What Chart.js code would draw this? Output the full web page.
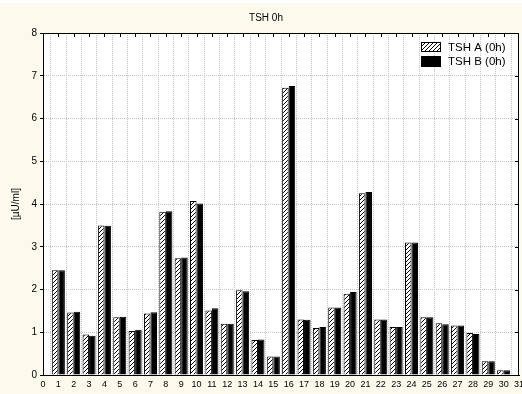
<!DOCTYPE html>
<html>
<head>
<meta charset="utf-8">
<script src="https://cdn.jsdelivr.net/npm/chart.js@4.4.0/dist/chart.umd.min.js"></script>
<style>
html, body { margin: 0; padding: 0; background: #fff; overflow: hidden; }
#wrap { width: 522px; height: 394px; }
</style>
</head>
<body>
<div id="wrap"><canvas id="chart" width="522" height="394"></canvas></div>
<script>
// Dữ liệu
var positions = [1, 2, 3, 4, 5, 6, 7, 8, 9, 10, 11, 12, 13, 14, 15, 16, 17, 18, 19, 20, 21, 22, 23, 24, 25, 26, 27, 28, 29, 30];
var tshA = [2.45, 1.46, 0.95, 3.50, 1.35, 1.03, 1.44, 3.82, 2.73, 4.07, 1.51, 1.20, 1.98, 0.82, 0.43,
            6.72, 1.30, 1.10, 1.58, 1.90, 4.25, 1.30, 1.12, 3.10, 1.35, 1.21, 1.16, 0.98, 0.32, 0.11];
var tshB = [2.45, 1.48, 0.92, 3.49, 1.36, 1.06, 1.47, 3.83, 2.75, 4.01, 1.56, 1.20, 1.96, 0.83, 0.43,
            6.76, 1.29, 1.12, 1.58, 1.94, 4.28, 1.30, 1.12, 3.10, 1.35, 1.19, 1.16, 0.96, 0.32, 0.11];
var seriesNames = ['TSH A (0h)', 'TSH B (0h)'];
var chartTitle = 'TSH 0h';
var yTitle = '[µU/ml]';
var xMin = 0, xMax = 31, yMin = 0, yMax = 8;

var FONT = "'Liberation Sans', Arial, sans-serif";
var CREAM = '#fdf9ed';

// Mẫu gạch chéo cho series A
function makeHatch() {
    var c = document.createElement('canvas');
    c.width = 4; c.height = 4;
    var g = c.getContext('2d');
    g.fillStyle = '#fff';
    g.fillRect(0, 0, 4, 4);
    g.strokeStyle = '#000';
    g.lineWidth = 1;
    g.beginPath();
    g.moveTo(0, 4); g.lineTo(4, 0);
    g.moveTo(-1, 1); g.lineTo(1, -1);
    g.moveTo(3, 5); g.lineTo(5, 3);
    g.stroke();
    return g.createPattern(c, 'repeat');
}
var hatch = makeHatch();

function toPoints(values) {
    return positions.map(function (p, i) { return {x: p, y: values[i]}; });
}

// Nền kem + vùng vẽ trắng
var bgPlugin = {
    id: 'bg',
    beforeDraw: function (chart) {
        var ctx = chart.ctx, a = chart.chartArea;
        ctx.save();
        ctx.fillStyle = '#fff';
        ctx.fillRect(0, 0, chart.width, chart.height);
        ctx.fillStyle = CREAM;
        ctx.fillRect(0, 3, chart.width, chart.height - 3);
        ctx.fillStyle = '#fff';
        ctx.fillRect(a.left, a.top, a.right - a.left, a.bottom - a.top);
        ctx.restore();
    }
};

// Khung trên/phải, vạch chia hướng vào trong, chú thích
var framePlugin = {
    id: 'frame',
    afterDatasetsDraw: function (chart) {
        var ctx = chart.ctx, a = chart.chartArea;
        var xs = chart.scales.x, ys = chart.scales.y;
        ctx.save();
        ctx.strokeStyle = '#000';
        ctx.lineWidth = 1;
        ctx.beginPath();
        ctx.moveTo(a.left, a.top + 0.5); ctx.lineTo(a.right, a.top + 0.5);
        ctx.moveTo(a.right - 0.5, a.top); ctx.lineTo(a.right - 0.5, a.bottom);
        for (var i = xMin + 1; i < xMax; i++) {
            var px = Math.round(xs.getPixelForValue(i)) + 0.5;
            ctx.moveTo(px, a.top); ctx.lineTo(px, a.top + 4);
        }
        for (var j = yMin + 1; j < yMax; j++) {
            var py = Math.round(ys.getPixelForValue(j)) + 0.5;
            ctx.moveTo(a.right, py); ctx.lineTo(a.right - 4, py);
        }
        ctx.stroke();

        // Chú thích
        var fills = [hatch, '#000'];
        var boxes = [[421, 42, 20, 10], [421, 56, 20, 11]];
        ctx.font = '11.5px ' + FONT;
        ctx.textBaseline = 'middle';
        ctx.textAlign = 'left';
        for (var k = 0; k < seriesNames.length; k++) {
            var b = boxes[k];
            ctx.fillStyle = fills[k];
            ctx.fillRect(b[0], b[1], b[2], b[3]);
            ctx.strokeRect(b[0] + 0.5, b[1] + 0.5, b[2] - 1, b[3] - 1);
            ctx.fillStyle = '#000';
            ctx.fillText(seriesNames[k], 448, b[1] + b[3] / 2 + 0.5);
        }
        ctx.restore();
    }
};

new Chart(document.getElementById('chart'), {
    type: 'bar',
    data: {
        datasets: [{
                label: seriesNames[0],
                data: toPoints(tshA),
                backgroundColor: hatch,
                borderColor: '#000',
                borderWidth: 1,
                categoryPercentage: 0.85,
                barPercentage: 1.0
            }, {
                label: seriesNames[1],
                data: toPoints(tshB),
                backgroundColor: '#000',
                borderColor: '#000',
                borderWidth: 1,
                categoryPercentage: 0.85,
                barPercentage: 1.0
            }]
    },
    options: {
        responsive: false,
        animation: false,
        layout: {padding: {left: 13, right: 3, top: 0, bottom: 0}},
        plugins: {
            legend: {display: false},
            tooltip: {enabled: false},
            title: {
                display: true,
                text: chartTitle,
                color: '#000',
                font: {family: FONT, size: 10, weight: 'normal'},
                padding: {top: 12, bottom: 9}
            }
        },
        scales: {
            x: {
                type: 'linear',
                min: xMin,
                max: xMax,
                offset: false,
                grid: {color: '#c4c4c4', drawTicks: false},
                border: {display: true, color: '#000', width: 1, dash: [1, 1]},
                ticks: {
                    stepSize: 1,
                    autoSkip: false,
                    maxRotation: 0,
                    padding: 4,
                    color: '#000',
                    font: {family: FONT, size: 9}
                },
                afterFit: function (scale) {
                    scale.paddingLeft = 0;
                    scale.paddingRight = 0;
                    scale.height = 19;
                }
            },
            y: {
                min: yMin,
                max: yMax,
                grid: {color: '#c4c4c4', drawTicks: true, tickLength: 3, tickColor: '#000'},
                border: {display: true, color: '#000', width: 1, dash: [1, 1]},
                ticks: {
                    stepSize: 1,
                    padding: 3,
                    color: '#000',
                    font: {family: FONT, size: 10}
                },
                title: {
                    display: true,
                    text: yTitle,
                    color: '#000',
                    font: {family: FONT, size: 10},
                    padding: {top: -3, bottom: 0}
                },
                afterFit: function (scale) {
                    scale.width = 30;
                }
            }
        }
    },
    plugins: [bgPlugin, framePlugin]
});
</script>
</body>
</html>
